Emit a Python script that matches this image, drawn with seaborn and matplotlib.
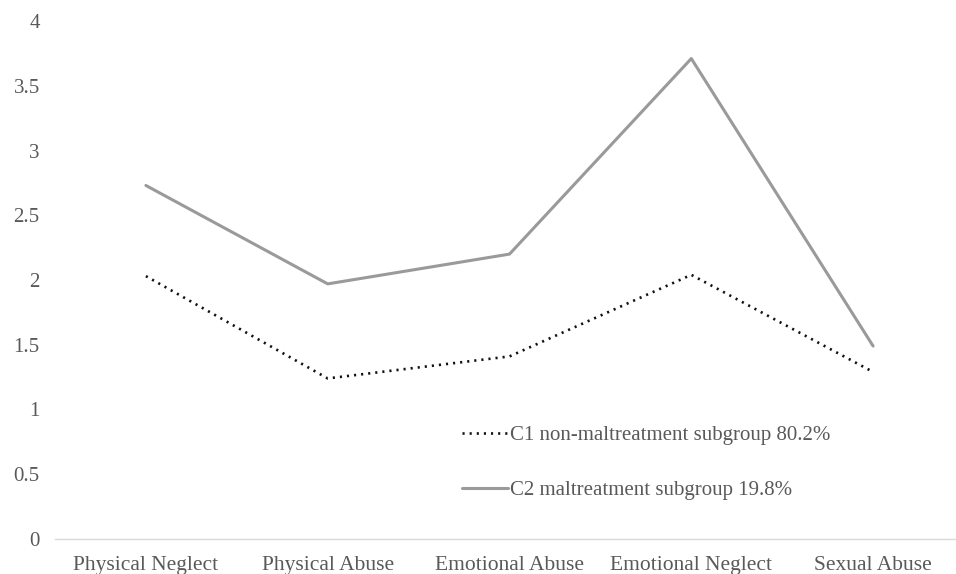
import matplotlib
matplotlib.use("Agg")
import matplotlib.pyplot as plt
import seaborn as sns
import pandas as pd

categories = ["Physical Neglect", "Physical Abuse", "Emotional Abuse",
              "Emotional Neglect", "Sexual Abuse"]
c1_values = [2.03, 1.24, 1.41, 2.04, 1.29]
c2_values = [2.73, 1.97, 2.20, 3.71, 1.49]
series_names = ["C1 non-maltreatment subgroup 80.2%",
                "C2 maltreatment subgroup 19.8%"]
y_ticks = [0, 0.5, 1, 1.5, 2, 2.5, 3, 3.5, 4]

df = pd.DataFrame({
    "category": categories * 2,
    "pos": list(range(len(categories))) * 2,
    "value": c1_values + c2_values,
    "group": [series_names[0]] * len(categories) + [series_names[1]] * len(categories),
})

sns.set_theme(style="white")
plt.rcParams["font.family"] = ["Liberation Serif", "DejaVu Serif"]

fig = plt.figure(figsize=(9.56, 5.74), dpi=100)
ax = fig.add_axes([55 / 956, 35 / 574, 909 / 956, 518 / 574])

sns.lineplot(
    data=df, x="pos", y="value", hue="group", style="group",
    palette={series_names[0]: "#111111", series_names[1]: "#9a9a9a"},
    dashes={series_names[0]: (0.8, 1.9), series_names[1]: ""},
    size="group", sizes={series_names[0]: 1.9, series_names[1]: 2.2},
    legend=False, ax=ax,
)

ax.set_xlim(-0.5, len(categories) - 0.5)
ax.set_ylim(0, 4)
ax.set_xticks(range(len(categories)))
ax.set_xticklabels(categories, fontsize=15.5)
ax.set_yticks(y_ticks)
ax.set_yticklabels([f"{t:g}" for t in y_ticks], fontsize=15)
ax.set_xlabel("")
ax.set_ylabel("")
ax.tick_params(axis="both", length=0, colors="#595959")
ax.tick_params(axis="x", pad=12)
ax.tick_params(axis="y", pad=11)
for side in ["top", "right", "left"]:
    ax.spines[side].set_visible(False)
ax.spines["bottom"].set_color("#d9d9d9")
ax.spines["bottom"].set_linewidth(1.0)
ax.grid(False)

handles = ax.lines[:2]
leg = fig.legend(
    handles, series_names, loc="center left",
    bbox_to_anchor=(462 / 956, 1 - 463 / 574),
    frameon=False, fontsize=15, handlelength=2.2, handletextpad=0.12,
    labelspacing=1.7, borderpad=0, borderaxespad=0,
)
for txt in leg.get_texts():
    txt.set_color("#595959")

fig.savefig("out.png", dpi=100, facecolor="white")
